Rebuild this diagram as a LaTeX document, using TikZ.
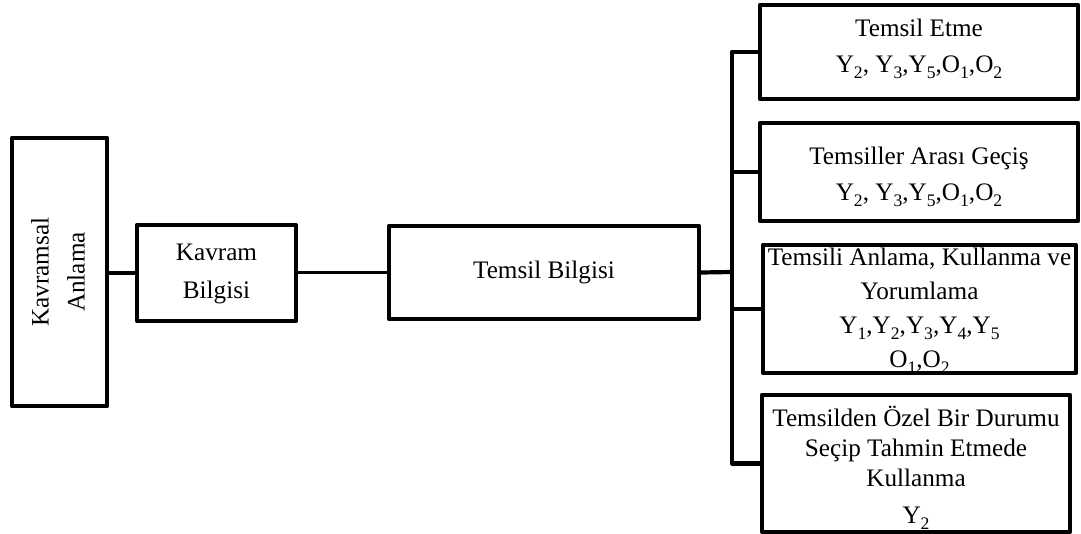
\documentclass[tikz,border=0pt]{standalone}
\usepackage{fontspec}
\setmainfont{Liberation Serif}
% lowered small index, as in Y_2 (kept out of the line spacing)
\newcommand{\ix}[1]{\raisebox{-0.5ex}[0pt][0pt]{\fontsize{8.8pt}{8.8pt}\selectfont #1}}
\begin{document}
\begin{tikzpicture}[x=0.5pt,y=-0.5pt,
  box/.style={draw, line width=2.1pt, line join=round, inner sep=0pt},
  txt/.style={align=center, inner sep=0pt, font=\fontsize{12.6pt}{#1}\selectfont},
  txt/.default=18pt,
  link/.style={line width=2.1pt, line join=round},
  thinlink/.style={line width=1.5pt}]
\useasboundingbox (0,0) rectangle (1081,534);

% boxes
\node[box, minimum width=47.5pt, minimum height=134pt] (KA) at (59.5,272) {};
\node[box, minimum width=79.5pt, minimum height=48pt] (KB) at (216.5,273) {};
\node[box, minimum width=155pt, minimum height=46.5pt] (TB) at (544,272.5) {};
\node[box, minimum width=159pt, minimum height=47pt] (TE) at (919,52) {};
\node[box, minimum width=159pt, minimum height=49pt] (TG) at (919,172) {};
\node[box, minimum width=156.5pt, minimum height=64pt] (TA) at (919.5,309) {};
\node[box, minimum width=154pt, minimum height=68.5pt] (TS) at (916,463.5) {};

% texts
\node[txt, rotate=90] (KAt) at (58,272) {Kavramsal\\Anlama};
\node[txt=19pt] (KBt) at (216.5,274) {Kavram\\Bilgisi};
\node[txt] (TBt) at (544,272) {Temsil Bilgisi};
\node[txt] (TEt) at (919,48) {Temsil Etme\\Y\ix{2}, Y\ix{3},Y\ix{5},O\ix{1},O\ix{2}};
\node[txt] (TGt) at (919,176) {Temsiller Arası Geçiş\\Y\ix{2}, Y\ix{3},Y\ix{5},O\ix{1},O\ix{2}};
\node[txt=17pt] (TAt) at (919.5,310) {Temsili Anlama, Kullanma ve\\Yorumlama\\Y\ix{1},Y\ix{2},Y\ix{3},Y\ix{4},Y\ix{5}\\O\ix{1},O\ix{2}};
\node[txt=15pt] (TSt) at (916,465) {Temsilden Özel Bir Durumu\\Seçip Tahmin Etmede\\Kullanma\\[3.5pt]Y\ix{2}};

% connectors
\coordinate (J) at (732,272);
\draw[link] (KB.west) -- (KB.west -| KA.east);
\draw[thinlink] (TB.west) -- (TB.west -| KB.east);
\draw[link] (TB.east) -- (J);
\draw[link] (TE.west) -- (TE.west -| J) -- (TS.west -| J) -- (TS.west);
\draw[link] (TG.west -| J) -- (TG.west);
\draw[link] (TA.west -| J) -- (TA.west);
\end{tikzpicture}
\end{document}
